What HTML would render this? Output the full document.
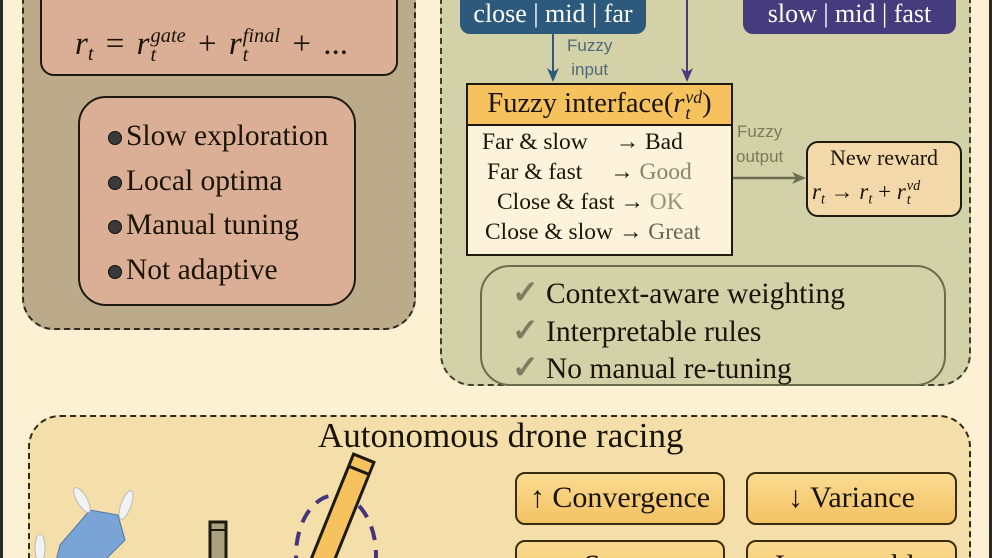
<!DOCTYPE html>
<html><head><meta charset="utf-8"><style>
*{margin:0;padding:0;box-sizing:border-box}
html,body{width:992px;height:558px;overflow:hidden}
body{background:#fdf1d3;font-family:"Liberation Serif",serif;color:#1a1408}
#w{position:relative;width:992px;height:558px;overflow:hidden}
.a{position:absolute}
.serif{font-family:"Liberation Serif",serif}
.sans{font-family:"Liberation Sans",sans-serif}
.btn{position:absolute;border:2px solid #3a2c10;border-radius:10px;background:linear-gradient(#fadb92,#f3c263);font-size:30px;text-align:center;line-height:48px}
.ss{display:inline-block;vertical-align:middle;line-height:0.95;font-size:0.62em;text-align:left;margin-left:1px}
.sub{font-size:0.62em;vertical-align:-0.3em}
.dot{display:inline-block;width:14px;height:14px;border-radius:50%;background:#3a3a3a;border:1px solid #111;margin-right:4px}
.ck{color:#7d7c5e;font-size:32px;font-weight:bold;display:inline-block;width:34px}
</style></head><body><div id="w">
<div class="a" style="left:0;top:0;width:3px;height:558px;background:#2a2a2a"></div>
<div class="a" style="left:989px;top:0;width:3px;height:558px;background:#2a2a2a"></div>

<!-- left panel -->
<div class="a" style="left:22px;top:-40px;width:394px;height:370px;background:#bbab8b;border:2px dashed #2e2a20;border-radius:32px"></div>
<div class="a" style="left:40px;top:-30px;width:358px;height:106px;background:#dbaf95;border:2px solid #1e1a12;border-radius:14px"></div>
<div class="a serif" style="left:75px;top:27px;font-size:33px;font-style:italic;white-space:nowrap;line-height:1;word-spacing:4px">r<span class="sub">t</span> <span style="font-style:normal">=</span> r<span class="ss">gate<br>t</span> <span style="font-style:normal">+</span> r<span class="ss">final<br>t</span> <span style="font-style:normal">+ ...</span></div>
<div class="a" style="left:78px;top:96px;width:278px;height:210px;background:#dbaf95;border:2px solid #1e1a12;border-radius:28px"></div>
<div class="a serif" style="left:108px;top:114px;font-size:29.5px;line-height:44.7px;white-space:nowrap">
<div><span class="dot"></span>Slow exploration</div>
<div><span class="dot"></span>Local optima</div>
<div><span class="dot"></span>Manual tuning</div>
<div><span class="dot"></span>Not adaptive</div>
</div>

<!-- right panel -->
<div class="a" style="left:440px;top:-40px;width:531px;height:426px;background:#d3d1a7;border:2px dashed #3e3e2a;border-radius:32px"></div>
<div class="a serif" style="left:460px;top:-20px;width:186px;height:54px;background:#2d5a7c;border-radius:10px;color:#fff;font-size:26px;text-align:center;padding-top:19px">close | mid | far</div>
<div class="a serif" style="left:743px;top:-20px;width:213px;height:54px;background:#463b7c;border-radius:10px;color:#fff;font-size:26px;text-align:center;padding-top:19px">slow | mid | fast</div>
<svg class="a" style="left:0;top:0" width="992" height="558">
<line x1="553" y1="34" x2="553" y2="74" stroke="#2d5a7c" stroke-width="2"/>
<polygon points="547,68 553,82 559,68 553,72" fill="#2d5a7c"/>
<line x1="687" y1="0" x2="687" y2="74" stroke="#463b7c" stroke-width="2"/>
<polygon points="681,68 687,82 693,68 687,72" fill="#463b7c"/>
<line x1="733" y1="178" x2="798" y2="178" stroke="#6b6d55" stroke-width="2.5"/>
<polygon points="792,172 806,178 792,184 796,178" fill="#6b6d55"/>
</svg>
<div class="a sans" style="left:567px;top:34px;font-size:17px;color:#4e6a7c;text-align:center;line-height:24px">Fuzzy<br>input</div>
<div class="a sans" style="left:736px;top:119px;font-size:17px;color:#7a7c58;text-align:center;line-height:25px">Fuzzy<br>output</div>

<div class="a" style="left:466px;top:83px;width:267px;height:173px;background:#fdf2da;border:2px solid #1e1a12"></div>
<div class="a serif" style="left:466px;top:83px;width:267px;height:43px;background:#f6c25e;border:2px solid #1e1a12;font-size:28.5px;text-align:center;line-height:38px;white-space:nowrap">Fuzzy interface(<i>r<span class="ss">vd<br>t</span></i>)</div>
<div class="a serif" style="left:482px;top:127px;font-size:23.5px;line-height:30px;white-space:nowrap">
<div>Far &amp; slow <span style="display:inline-block;width:22px"></span>→ Bad</div>
<div style="margin-left:5px">Far &amp; fast <span style="display:inline-block;width:22px"></span>→ <span style="color:#8a846a">Good</span></div>
<div style="margin-left:15px">Close &amp; fast → <span style="color:#9a9478">OK</span></div>
<div style="margin-left:3px">Close &amp; slow → <span style="color:#6b664e">Great</span></div>
</div>

<div class="a" style="left:806px;top:141px;width:156px;height:76px;background:#f3d9a9;border:2px solid #1e1a12;border-radius:12px"></div>
<div class="a serif" style="left:806px;top:145px;width:156px;text-align:center;font-size:22px">New reward</div>
<div class="a serif" style="left:812px;top:180px;font-size:23px;font-style:italic;white-space:nowrap;line-height:1">r<span class="sub">t</span> <span style="font-style:normal">→</span> r<span class="sub">t</span> <span style="font-style:normal">+</span> r<span class="ss">vd<br>t</span></div>

<div class="a" style="left:480px;top:265px;width:466px;height:121px;border:2px solid #6b6b4e;border-radius:30px"></div>
<div class="a serif" style="left:512px;top:275px;font-size:29.5px;line-height:35.5px;white-space:nowrap">
<div><span class="ck">✓</span>Context-aware weighting</div>
<div><span class="ck">✓</span>Interpretable rules</div>
<div><span class="ck">✓</span>No manual re-tuning</div>
</div>

<!-- bottom panel -->
<div class="a" style="left:28px;top:415px;width:943px;height:190px;background:#f4dfaa;border:2px dashed #2e2a20;border-radius:32px"></div>
<div class="a serif" style="left:318px;top:417px;font-size:35px;white-space:nowrap;line-height:1.1">Autonomous drone racing</div>
<div class="btn" style="left:515px;top:472px;width:210px;height:53px">↑ Convergence</div>
<div class="btn" style="left:746px;top:472px;width:211px;height:53px">↓ Variance</div>
<div class="btn" style="left:515px;top:540px;width:210px;height:53px">↑ Success</div>
<div class="btn" style="left:746px;top:540px;width:211px;height:53px">Interpretable</div>

<svg class="a" style="left:0;top:0" width="992" height="558">
<ellipse cx="336" cy="555" rx="40" ry="60" fill="none" stroke="#46357a" stroke-width="4" stroke-dasharray="14,10"/>
<g transform="rotate(22 345 510)">
<rect x="332" y="455" width="22" height="140" fill="#f6c25e" stroke="#1e1a12" stroke-width="3"/>
<line x1="332" y1="468" x2="354" y2="468" stroke="#1e1a12" stroke-width="3"/>
</g>
<rect x="210" y="522" width="16" height="40" fill="#a9a27c" stroke="#1e1a12" stroke-width="3"/>
<line x1="210" y1="530" x2="226" y2="530" stroke="#1e1a12" stroke-width="2"/>
<path d="M60,545 L90,510 L118,515 L125,540 L100,565 L55,565 Z" fill="#7aa3d6" stroke="#4f77ad"/>
<g fill="#f2f2f2" stroke="#bbb">
<ellipse cx="82" cy="500" rx="5" ry="14" transform="rotate(-30 82 500)"/>
<ellipse cx="126" cy="505" rx="5" ry="15" transform="rotate(20 126 505)"/>
<ellipse cx="40" cy="548" rx="5" ry="14"/>
</g>
</svg>
</div></body></html>
